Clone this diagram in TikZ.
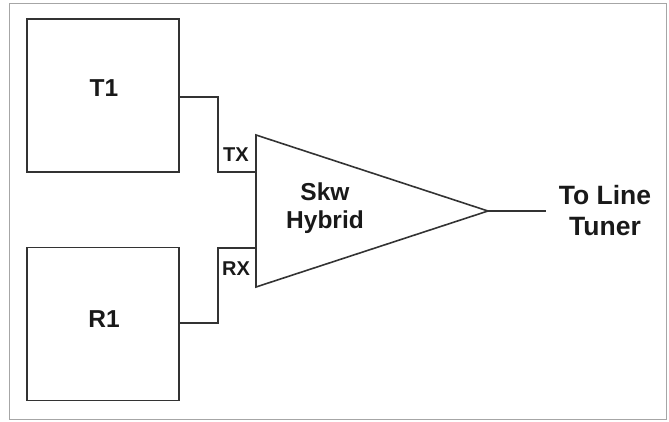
\documentclass[tikz,border=0pt]{standalone}
\usepackage{fontspec}
\setmainfont{Liberation Sans}
\begin{document}
\begin{tikzpicture}[x=1pt,y=-1pt,
  box/.style={draw=black!80,line width=1.6pt,minimum width=152pt,minimum height=153pt,inner sep=0pt},
  lbl/.style={font=\fontsize{24.5}{28}\selectfont\bfseries,text=black!90,align=center,inner sep=0pt},
  small/.style={font=\fontsize{20}{22}\selectfont\bfseries,text=black!90,inner sep=0pt},
  wire/.style={draw=black!80,line width=1.6pt}]
\useasboundingbox (0,0) rectangle (669,422);
\draw[black!35,line width=1pt] (9,4) rectangle (666,419);
\node[box] (t1) at (103,95.5) {};
\node[box] (r1) at (103,324) {};
\node[lbl] (t1l) at (104,88) {T1};
\node[lbl] (r1l) at (104,319) {R1};
\coordinate (tA) at (256,135);
\coordinate (tB) at (256,287);
\coordinate (apex) at (488,211);
\coordinate (tx) at (256,172);
\coordinate (rx) at (256,248);
\draw[wire,line join=miter] (tA) -- (apex) -- (tB) -- cycle;
\node[lbl] (hyb) at (325,208) {Skw\\Hybrid};
\node[small] (txl) at (236,155) {TX};
\node[small] (rxl) at (236,269) {RX};
\draw[wire] (t1.east |- 0,97) -- (218,97) |- (tx);
\draw[wire] (r1.east |- 0,323) -- (218,323) |- (rx);
\coordinate (lineend) at (546,211);
\draw[wire] (apex) -- (lineend);
\node[lbl,font=\fontsize{26.5}{31}\selectfont\bfseries] (tuner) at (605,211) {To Line\\Tuner};
\end{tikzpicture}
\end{document}
